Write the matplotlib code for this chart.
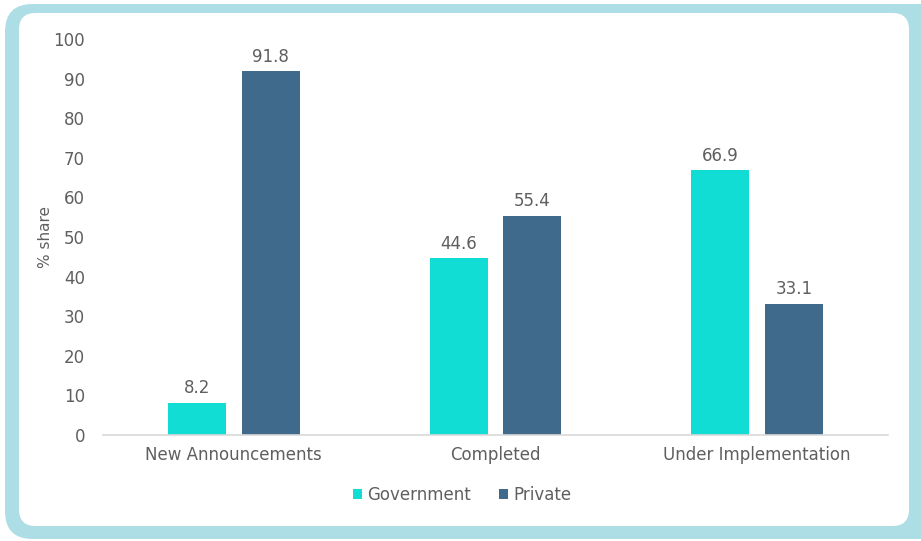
import matplotlib
matplotlib.use("Agg")
import matplotlib.pyplot as plt
from matplotlib.patches import FancyBboxPatch
import numpy as np

categories = ["New Announcements", "Completed", "Under Implementation"]
government = [8.2, 44.6, 66.9]
private = [91.8, 55.4, 33.1]
yticks = [0, 10, 20, 30, 40, 50, 60, 70, 80, 90, 100]

plt.rcParams['font.family'] = ['DejaVu Sans']
W, H = 921, 541
fig = plt.figure(figsize=(W/100, H/100), dpi=100)

# border frame
outer = FancyBboxPatch((5/W, 2/H), (W-5)/W + 0.05, (537-2)/H, boxstyle="round,pad=0,rounding_size=0.03",
                       transform=fig.transFigure, facecolor="#ADDEE5", edgecolor="none", zorder=0,
                       mutation_aspect=W/H)
fig.patches.append(outer)
inner = FancyBboxPatch((19/W, 15/H), (909-19)/W, (528-15)/H, boxstyle="round,pad=0,rounding_size=0.018",
                       transform=fig.transFigure, facecolor="white", edgecolor="none", zorder=0,
                       mutation_aspect=W/H)
fig.patches.append(inner)

ax = fig.add_axes([103/W, (H-435)/H, (888-103)/W, (435-39)/H])
ax.set_zorder(2)
ax.set_facecolor("none")
x = np.arange(len(categories))
off = 0.141
w = 0.222
gcol = "#11DDD4"
pcol = "#406A8C"
tc = "#5F5F5F"
fs = 12
b1 = ax.bar(x - off, government, w, color=gcol, label="Government")
b2 = ax.bar(x + off, private, w, color=pcol, label="Private")
for bars, vals in ((b1, government), (b2, private)):
    for b, v in zip(bars, vals):
        ax.annotate(f"{v}", (b.get_x() + b.get_width()/2, v), xytext=(0, 4), textcoords="offset points",
                    ha="center", va="bottom", fontsize=fs, color=tc)

ax.set_xlim(-0.5, 2.5)
ax.set_ylim(0, 100)
ax.set_yticks(yticks)
ax.set_xticks(x)
ax.set_xticklabels(categories)
ax.tick_params(axis="both", length=0, labelsize=fs, labelcolor=tc)
ax.tick_params(axis="y", pad=13)
ax.tick_params(axis="x", pad=8)
for s in ("top", "right", "left"):
    ax.spines[s].set_visible(False)
ax.spines["bottom"].set_color("#D9D9D9")
ax.spines["bottom"].set_linewidth(1.2)
ax.set_ylabel("% share", color=tc, fontsize=11, labelpad=0)

leg = fig.legend(handles=[b1, b2], loc="center", bbox_to_anchor=(462/W, 1 - 495/H), ncol=2, frameon=False,
                 fontsize=fs, handlelength=0.55, handleheight=0.55, handletextpad=0.3, columnspacing=1.7)
leg.set_zorder(3)
for t in leg.get_texts():
    t.set_color(tc)

fig.savefig("out.png", dpi=100)
